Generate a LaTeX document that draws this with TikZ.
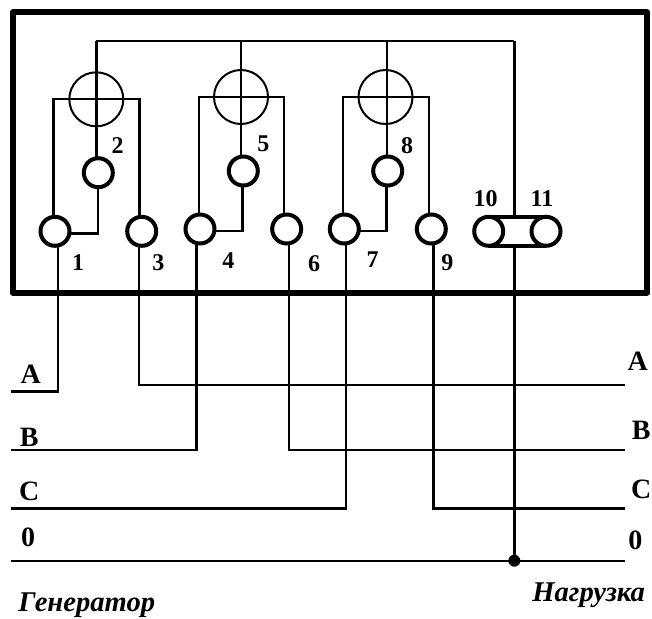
\documentclass[tikz,border=0pt]{standalone}
\usepackage{fontspec}
\setmainfont{Liberation Serif}
\usetikzlibrary{backgrounds}
\tikzset{
  wire/.style={line width=2.4pt,line join=miter},
  frame/.style={line width=6pt,line join=round},
  coil/.style={circle,draw,line width=2pt,minimum size=54pt,inner sep=0pt,outer sep=0pt},
  term/.style={circle,draw,fill=white,line width=4pt,minimum size=29pt,inner sep=0pt,outer sep=0pt},
  link/.style={line width=3.4pt},
  num/.style={inner sep=0pt,font=\bfseries\fontsize{24}{24}\selectfont},
  phase/.style={inner sep=0pt,font=\bfseries\fontsize{28}{28}\selectfont},
  side/.style={inner sep=0pt,font=\bfseries\itshape\fontsize{28.6}{30}\selectfont},
  dotnode/.style={circle,fill=black,minimum size=12pt,inner sep=0pt,outer sep=0pt}
}
\begin{document}
\begin{tikzpicture}[x=1pt,y=-1pt]
\useasboundingbox (0,0) rectangle (652,618);
\draw[frame] (12.5,12.5) rectangle (647,292.5);
% coils
\node[coil] (c1) at (96.3,99.3) {};
\node[coil] (c2) at (241,97) {};
\node[coil] (c3) at (385.5,97) {};
% terminals
\node[term] (t1) at (55,231.3) {};
\node[term] (t2) at (98.3,172.7) {};
\node[term] (t3) at (141.7,231.3) {};
\node[term] (t4) at (200,229) {};
\node[term] (t5) at (243.3,171) {};
\node[term] (t6) at (286.7,229) {};
\node[term] (t7) at (344.3,229) {};
\node[term] (t8) at (387.7,171) {};
\node[term] (t9) at (431.3,229) {};
\node[term] (t10) at (488.7,231.3) {};
\node[term] (t11) at (546,231.3) {};
\draw[link] (t10.north) -- (t11.north);
\draw[link] (t10.south) -- (t11.south);
% free points
\coordinate (top1) at (96.3,41.3);
\coordinate (top2) at (241,41.3);
\coordinate (top3) at (387,41.3);
\coordinate (topn) at (514.3,41.3);
\coordinate (lA) at (11,391.5);
\coordinate (lB) at (11,450);
\coordinate (lC) at (11,508.3);
\coordinate (l0) at (11,560.7);
\coordinate (rA) at (624.7,385);
\coordinate (rB) at (624.7,450);
\coordinate (rC) at (624.7,508.3);
\coordinate (r0) at (624.7,560.7);
\coordinate (d1) at (58,0);
\coordinate (d3) at (139,0);
\coordinate (d4) at (196.3,0);
\coordinate (d6) at (289,0);
\coordinate (d7) at (346,0);
\coordinate (d9) at (433.3,0);
\coordinate (w1) at (53.3,99);
\coordinate (e1) at (139.3,99);
\coordinate (w2) at (199,97);
\coordinate (e2) at (283.7,97);
\coordinate (w3) at (343,97);
\coordinate (e3) at (428.7,97);
\coordinate (j1) at (97.7,233.3);
\coordinate (j2) at (242.3,231);
\coordinate (j3) at (386.3,231);
\node[dotnode] (n0) at (topn |- l0) {};
\begin{pgfonlayer}{background}
\draw[wire] (top1) -- (topn);
\draw[wire] (topn) -- (topn |- t10.north);
\draw[wire] (topn |- t10.south) -- (n0);
\draw[wire] (l0) -- (r0);
% group 1
\draw[wire] (top1) -- (top1 |- t2.north);
\draw[wire] (t1 |- j1) -- (j1) -- (j1 |- t2);
\draw[wire] (w1 |- t1.north) -- (w1) -- (e1) -- (e1 |- t3.north);
\draw[wire] (d1 |- t1) -- (d1 |- lA) -- (lA);
\draw[wire] (d3 |- t3) -- (d3 |- rA) -- (rA);
% group 2
\draw[wire] (top2) -- (top2 |- t5.north);
\draw[wire] (t4 |- j2) -- (j2) -- (j2 |- t5);
\draw[wire] (w2 |- t4.north) -- (w2) -- (e2) -- (e2 |- t6.north);
\draw[wire] (d4 |- t4) -- (d4 |- lB) -- (lB);
\draw[wire] (d6 |- t6) -- (d6 |- rB) -- (rB);
% group 3
\draw[wire] (top3) -- (top3 |- t8.north);
\draw[wire] (t7 |- j3) -- (j3) -- (j3 |- t8);
\draw[wire] (w3 |- t7.north) -- (w3) -- (e3) -- (e3 |- t9.north);
\draw[wire] (d7 |- t7) -- (d7 |- lC) -- (lC);
\draw[wire] (d9 |- t9) -- (d9 |- rC) -- (rC);
\end{pgfonlayer}
% numbers
\node[num] (n1) at (78,262.7) {1};
\node[num] (n2) at (117.7,145.3) {2};
\node[num] (n3) at (158.3,262.7) {3};
\node[num] (n4) at (228.3,261) {4};
\node[num] (n5) at (263.3,144) {5};
\node[num] (n6) at (314,264) {6};
\node[num] (n7) at (372.7,260) {7};
\node[num] (n8) at (407,145.3) {8};
\node[num] (n9) at (447.3,262.3) {9};
\node[num] (n10) at (485.7,199) {10};
\node[num] (n11) at (542,199) {11};
% phases
\node[phase] (pa) at (30.7,374.3) {A};
\node[phase] (pb) at (29.3,437.3) {B};
\node[phase] (pc) at (29.3,491) {C};
\node[phase] (p0) at (28,537) {0};
\node[phase] (qa) at (637.7,361.7) {A};
\node[phase] (qb) at (641.3,430.7) {B};
\node[phase] (qc) at (641.3,489) {C};
\node[phase] (q0) at (635.3,540.7) {0};
\node[side] (gen) at (86.7,605) {Генератор};
\node[side] (nag) at (588.7,595.7) {Нагрузка};
\end{tikzpicture}
\end{document}
